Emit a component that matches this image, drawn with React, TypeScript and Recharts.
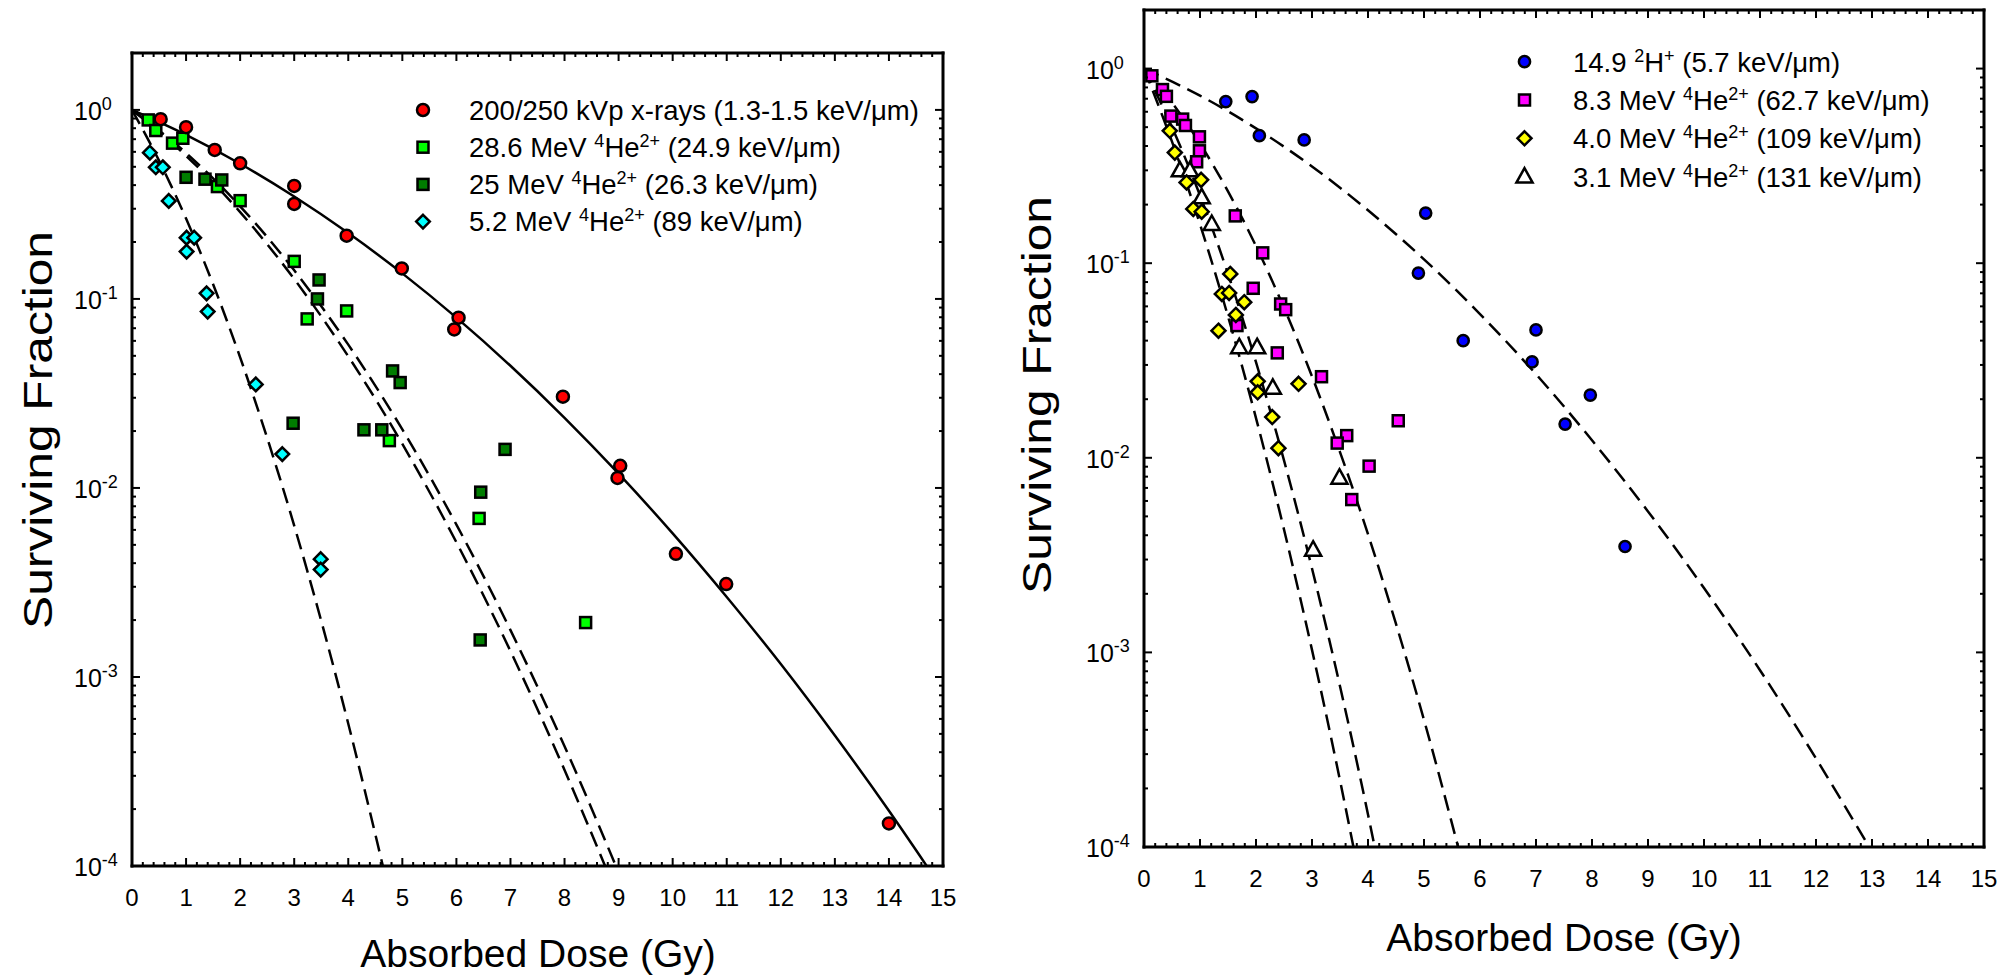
import React from "react";
import { ComposedChart, Scatter, Line, XAxis, YAxis, Legend } from "recharts";

const FONT = "'Liberation Sans', Arial, Helvetica, sans-serif";

// ---- axis ticks ----
const doseLabels = [0, 1, 2, 3, 4, 5, 6, 7, 8, 9, 10, 11, 12, 13, 14, 15];
const doseTicks = doseLabels.flatMap((d) =>
  d === 15 ? [d] : [0, 0.2, 0.4, 0.6, 0.8].map((f) => +(d + f).toFixed(1))
);
const decadeTicks = [0.0001, 0.001, 0.01, 0.1, 1];
const fractionTicks = decadeTicks.flatMap((v) =>
  v === 1 ? [v] : [1, 2, 3, 4, 5, 6, 7, 8, 9].map((m) => +(m * v).toPrecision(3))
);

type Pt = [number, number];

// ---- left panel: measured points [dose (Gy), surviving fraction] ----
const xray: Pt[] = [
  [0.53, 0.893], [1.0, 0.81], [1.53, 0.614], [2.0, 0.522], [3.0, 0.396], [3.0, 0.318],
  [3.97, 0.216], [4.99, 0.145], [6.04, 0.0796], [5.96, 0.069], [7.97, 0.0304],
  [9.03, 0.0131], [8.98, 0.0113], [10.06, 0.00448], [10.99, 0.0031], [14.0, 0.000168],
];
const he286: Pt[] = [
  [0.3, 0.885], [0.44, 0.778], [0.75, 0.667], [0.94, 0.708], [1.58, 0.393], [2.0, 0.331],
  [3.0, 0.158], [3.97, 0.0864], [3.24, 0.0784], [4.76, 0.0178], [6.42, 0.0069], [8.39, 0.00194],
];
const he25: Pt[] = [
  [1.0, 0.44], [1.35, 0.43], [1.66, 0.426], [3.46, 0.126], [3.43, 0.1], [4.82, 0.0416],
  [4.96, 0.0361], [2.98, 0.022], [4.29, 0.0203], [4.62, 0.0203], [6.9, 0.016],
  [6.45, 0.0095], [6.44, 0.00157],
];
const he52: Pt[] = [
  [0.33, 0.594], [0.44, 0.497], [0.57, 0.497], [0.68, 0.33], [1.01, 0.211], [1.15, 0.211],
  [1.01, 0.178], [1.38, 0.107], [1.4, 0.0857], [2.29, 0.0353], [2.78, 0.0151],
  [3.49, 0.0042], [3.49, 0.0037],
];

// ---- left panel: fitted curves ----
const xrayFit: Pt[] = [
  [0, 1], [1, 0.738], [2, 0.519], [3, 0.348], [4, 0.223], [5, 0.1365], [6, 0.0796],
  [7, 0.0443], [8, 0.0235], [9, 0.0119], [10, 0.00575], [11, 0.00265], [12, 0.00117],
  [13, 0.00049], [14, 0.000196], [14.7, 0.0001],
];
const he286Fit: Pt[] = [
  [0, 1], [1, 0.572], [2, 0.288], [3, 0.1275], [4, 0.0497], [5, 0.0171], [6, 0.00516],
  [7, 0.00137], [8, 0.000322], [8.75, 0.0001],
];
const he25Fit: Pt[] = [
  [0, 1], [1, 0.592], [2, 0.309], [3, 0.1417], [4, 0.0573], [5, 0.0204], [6, 0.0064],
  [7, 0.00177], [8, 0.00043], [8.95, 0.0001],
];
const he52Fit: Pt[] = [
  [0, 1], [0.5, 0.539], [1, 0.266], [1.5, 0.1195], [2, 0.0491], [2.5, 0.0184],
  [3, 0.00632], [3.5, 0.00198], [4, 0.000566], [4.64, 0.0001],
];

// ---- right panel: measured points ----
const deut: Pt[] = [
  [1.46, 0.677], [1.93, 0.718], [2.06, 0.452], [2.86, 0.43], [5.03, 0.181], [4.9, 0.089],
  [5.7, 0.04], [7.0, 0.0454], [6.93, 0.0311], [7.97, 0.021], [7.52, 0.0149], [8.59, 0.0035],
];
const he83: Pt[] = [
  [0.14, 0.918], [0.33, 0.78], [0.4, 0.72], [0.48, 0.57], [0.69, 0.55], [0.74, 0.51],
  [0.99, 0.446], [0.99, 0.378], [0.94, 0.332], [1.63, 0.175], [2.12, 0.113], [1.95, 0.0743],
  [2.44, 0.0617], [2.53, 0.0577], [1.66, 0.0478], [2.38, 0.0346], [3.17, 0.0261],
  [4.54, 0.0155], [3.62, 0.013], [3.45, 0.0119], [4.02, 0.00906], [3.71, 0.0061],
];
const he40: Pt[] = [
  [0.46, 0.479], [0.55, 0.37], [0.76, 0.26], [1.02, 0.268], [0.88, 0.19], [1.03, 0.184],
  [1.54, 0.088], [1.39, 0.0695], [1.52, 0.0703], [1.79, 0.063], [1.64, 0.0542], [1.33, 0.045],
  [2.03, 0.0247], [2.76, 0.024], [2.03, 0.0217], [2.29, 0.0162], [2.4, 0.0112],
];
const he31: Pt[] = [
  [0.64, 0.3], [0.82, 0.3], [1.03, 0.218], [1.21, 0.159], [1.7, 0.037], [2.02, 0.037],
  [2.3, 0.0229], [3.49, 0.0079], [3.02, 0.00337],
];

// ---- right panel: fitted curves ----
const deutFit: Pt[] = [
  [0, 1], [1, 0.726], [2, 0.493], [3, 0.314], [4, 0.187], [5, 0.1047], [6, 0.0548],
  [7, 0.0269], [8, 0.0123], [9, 0.0053], [10, 0.00214], [11, 0.00081], [12, 0.000285],
  [12.95, 0.0001],
];
const he83Fit: Pt[] = [
  [0, 1], [0.5, 0.669], [1, 0.412], [1.5, 0.234], [2, 0.1225], [2.5, 0.059], [3, 0.0262],
  [3.5, 0.0107], [4, 0.00405], [4.5, 0.0014], [5, 0.00045], [5.61, 0.0001],
];
const he40Fit: Pt[] = [
  [0, 1], [0.5, 0.5], [1, 0.223], [1.5, 0.0882], [2, 0.031], [2.5, 0.0097], [3, 0.0027],
  [3.5, 0.00067], [4, 0.000147], [4.12, 0.0001],
];
const he31Fit: Pt[] = [
  [0, 1], [0.5, 0.421], [1, 0.1584], [1.5, 0.0533], [2, 0.016], [2.5, 0.00428],
  [3, 0.00103], [3.5, 0.00022], [3.74, 0.0001],
];

// ---- markers ----
type ShapeFn = (cx: number, cy: number) => React.ReactElement;
const circle = (fill: string, r: number): ShapeFn => (cx, cy) => (
  <circle cx={cx} cy={cy} r={r} fill={fill} stroke="#000" strokeWidth={2.5} />
);
const square = (fill: string, s: number): ShapeFn => (cx, cy) => (
  <rect x={cx - s / 2} y={cy - s / 2} width={s} height={s} fill={fill} stroke="#000" strokeWidth={2.5} />
);
const diamond = (fill: string, h: number): ShapeFn => (cx, cy) => (
  <polygon
    points={`${cx},${cy - h} ${cx + h},${cy} ${cx},${cy + h} ${cx - h},${cy}`}
    fill={fill}
    stroke="#000"
    strokeWidth={2.5}
  />
);
const triangle = (fill: string, h: number): ShapeFn => (cx, cy) => (
  <polygon
    points={`${cx},${cy - h} ${cx + h * 0.95},${cy + h * 0.7} ${cx - h * 0.95},${cy + h * 0.7}`}
    fill={fill}
    stroke="#000"
    strokeWidth={2.5}
    strokeLinejoin="miter"
  />
);

// label pieces: [text, superscript?]
type Part = [string, boolean];

interface SeriesDef {
  label: Part[];
  points: Pt[];
  shape: ShapeFn;
}
interface CurveDef {
  points: Pt[];
  dashed: boolean;
}

const leftSeries: SeriesDef[] = [
  { label: [["200/250 kVp x-rays (1.3-1.5 keV/μm)", false]], points: xray, shape: circle("#ff0000", 6) },
  {
    label: [["28.6 MeV ", false], ["4", true], ["He", false], ["2+", true], [" (24.9 keV/μm)", false]],
    points: he286,
    shape: square("#00ff00", 11),
  },
  {
    label: [["25 MeV ", false], ["4", true], ["He", false], ["2+", true], [" (26.3 keV/μm)", false]],
    points: he25,
    shape: square("#007d00", 11),
  },
  {
    label: [["5.2 MeV ", false], ["4", true], ["He", false], ["2+", true], [" (89 keV/μm)", false]],
    points: he52,
    shape: diamond("#00ffff", 6.8),
  },
];
const leftDrawOrder = [3, 1, 2, 0];

const rightSeries: SeriesDef[] = [
  {
    label: [["14.9 ", false], ["2", true], ["H", false], ["+", true], [" (5.7 keV/μm)", false]],
    points: deut,
    shape: circle("#0000ff", 5.6),
  },
  {
    label: [["8.3 MeV ", false], ["4", true], ["He", false], ["2+", true], [" (62.7 keV/μm)", false]],
    points: he83,
    shape: square("#ff00ff", 11),
  },
  {
    label: [["4.0 MeV ", false], ["4", true], ["He", false], ["2+", true], [" (109 keV/μm)", false]],
    points: he40,
    shape: diamond("#ffff00", 7),
  },
  {
    label: [["3.1 MeV ", false], ["4", true], ["He", false], ["2+", true], [" (131 keV/μm)", false]],
    points: he31,
    shape: triangle("#ffffff", 8.5),
  },
];
const rightDrawOrder = [0, 1, 3, 2];

const leftCurves: CurveDef[] = [
  { points: xrayFit, dashed: false },
  { points: he286Fit, dashed: true },
  { points: he25Fit, dashed: true },
  { points: he52Fit, dashed: true },
];
const rightCurves: CurveDef[] = [
  { points: deutFit, dashed: true },
  { points: he83Fit, dashed: true },
  { points: he40Fit, dashed: true },
  { points: he31Fit, dashed: true },
];

const toRows = (pts: Pt[]) => pts.map(([x, y]) => ({ x, y }));

const isDecade = (v: number) => Math.abs(Math.log10(v) - Math.round(Math.log10(v))) < 1e-6;
const isWhole = (v: number) => Math.abs(v - Math.round(v)) < 1e-6;

// ---- tick renderers (ticks point into the plot) ----
function leftYTick(props: any) {
  const { x, y, payload } = props;
  const v = payload.value;
  const major = isDecade(v);
  const e = Math.round(Math.log10(v));
  return (
    <g>
      <line x1={x} x2={x + (major ? 8 : 4)} y1={y} y2={y} stroke="#000" strokeWidth={2} />
      {major && (
        <text x={x - 58} y={y + 10} fontFamily={FONT} fontSize={25} fill="#000">
          10
          <tspan dy={-10} fontSize={18}>
            {e === 0 ? "0" : String(e)}
          </tspan>
        </text>
      )}
    </g>
  );
}
function rightYTick(props: any) {
  const { x, y, payload } = props;
  const major = isDecade(payload.value);
  return <line x1={x} x2={x - (major ? 8 : 4)} y1={y} y2={y} stroke="#000" strokeWidth={2} />;
}
function bottomXTick(props: any) {
  const { x, y, payload } = props;
  const v = payload.value;
  const major = isWhole(v);
  return (
    <g>
      <line x1={x} x2={x} y1={y} y2={y - (major ? 8 : 4)} stroke="#000" strokeWidth={2} />
      {major && (
        <text x={x} y={y + 40} textAnchor="middle" fontFamily={FONT} fontSize={24} fill="#000">
          {Math.round(v)}
        </text>
      )}
    </g>
  );
}
function topXTick(props: any) {
  const { x, y, payload } = props;
  const major = isWhole(payload.value);
  return <line x1={x} x2={x} y1={y} y2={y + (major ? 8 : 4)} stroke="#000" strokeWidth={2} />;
}

function RichText({ x, y, parts, size }: { x: number; y: number; parts: Part[]; size: number }) {
  let raised = false;
  return (
    <text x={x} y={y} fontFamily={FONT} fontSize={size} fill="#000" style={{ whiteSpace: "pre" }}>
      {parts.map(([t, sup], i) => {
        const dy = sup && !raised ? -10 : !sup && raised ? 10 : 0;
        raised = sup;
        return (
          <tspan key={i} dy={dy} fontSize={sup ? 18 : size}>
            {t}
          </tspan>
        );
      })}
    </text>
  );
}

interface PanelProps {
  pageLeft: number;
  width: number;
  yAxisWidth: number;
  rightWidth: number;
  topHeight: number;
  bottomHeight: number;
  series: SeriesDef[];
  drawOrder: number[];
  curves: CurveDef[];
  yTitle: { x: number; y: number };
  xTitle: { x: number; y: number };
  legend: { left: number; top: number; markerX: number; row0: number; gap: number; textX: number; base: number };
}

const axisLineStyle = { stroke: "#000", strokeWidth: 3, strokeLinecap: "square" as const };

function Panel(p: PanelProps) {
  const lg = p.legend;
  return (
    <div style={{ position: "absolute", left: p.pageLeft, top: 0 }}>
      <ComposedChart width={p.width} height={976} margin={{ top: 0, right: 0, bottom: 0, left: 0 }}>
        <XAxis
          xAxisId="b"
          dataKey="x"
          type="number"
          domain={[0, 15]}
          allowDataOverflow
          ticks={doseTicks}
          interval={0}
          tickSize={0}
          tickMargin={0}
          tickLine={false}
          tick={bottomXTick}
          axisLine={axisLineStyle}
          height={p.bottomHeight}
          label={() => (
            <text x={p.xTitle.x} y={p.xTitle.y} textAnchor="middle" fontFamily={FONT} fontSize={39} fill="#000">
              Absorbed Dose (Gy)
            </text>
          )}
        />
        <XAxis
          xAxisId="t"
          orientation="top"
          dataKey="x"
          type="number"
          domain={[0, 15]}
          allowDataOverflow
          ticks={doseTicks}
          interval={0}
          tickSize={0}
          tickMargin={0}
          tickLine={false}
          tick={topXTick}
          axisLine={axisLineStyle}
          height={p.topHeight}
        />
        <YAxis
          yAxisId="l"
          dataKey="y"
          type="number"
          scale="log"
          domain={[0.0001, 2]}
          allowDataOverflow
          ticks={fractionTicks}
          interval={0}
          tickSize={0}
          tickMargin={0}
          tickLine={false}
          tick={leftYTick}
          axisLine={axisLineStyle}
          width={p.yAxisWidth}
          label={() => (
            <text
              x={p.yTitle.x}
              y={p.yTitle.y}
              textAnchor="middle"
              dominantBaseline="central"
              transform={`rotate(-90 ${p.yTitle.x} ${p.yTitle.y})`}
              fontFamily={FONT}
              fontSize={41}
              textLength={398}
              lengthAdjust="spacingAndGlyphs"
              fill="#000"
            >
              Surviving Fraction
            </text>
          )}
        />
        <YAxis
          yAxisId="r"
          orientation="right"
          dataKey="y"
          type="number"
          scale="log"
          domain={[0.0001, 2]}
          allowDataOverflow
          ticks={fractionTicks}
          interval={0}
          tickSize={0}
          tickMargin={0}
          tickLine={false}
          tick={rightYTick}
          axisLine={axisLineStyle}
          width={p.rightWidth}
        />
        {p.curves.map((c, i) => (
          <Line
            key={"c" + i}
            xAxisId="b"
            yAxisId="l"
            data={toRows(c.points)}
            dataKey="y"
            type="monotone"
            dot={false}
            activeDot={false}
            stroke="#000"
            strokeWidth={2.5}
            strokeDasharray={c.dashed ? "16 8" : undefined}
            isAnimationActive={false}
          />
        ))}
        {p.drawOrder.map((i) => {
          const s = p.series[i];
          return (
            <Scatter
              key={"s" + i}
              xAxisId="b"
              yAxisId="l"
              data={toRows(s.points)}
              dataKey="y"
              shape={(sp: any) => s.shape(sp.cx, sp.cy)}
              isAnimationActive={false}
            />
          );
        })}
        <Legend
          layout="vertical"
          align="center"
          verticalAlign="middle"
          wrapperStyle={{ position: "absolute", left: lg.left, top: lg.top, width: 560, height: 170 }}
          content={() => (
            <svg width={560} height={170} style={{ overflow: "visible", display: "block" }}>
              {p.series.map((s, i) => {
                const cy = lg.row0 + i * lg.gap;
                return (
                  <g key={i}>
                    {s.shape(lg.markerX, cy)}
                    <RichText x={lg.textX} y={cy + lg.base} parts={s.label} size={27.5} />
                  </g>
                );
              })}
            </svg>
          )}
        />
      </ComposedChart>
    </div>
  );
}

export default function App() {
  return (
    <div style={{ position: "absolute", left: 0, top: 0, width: 2015, height: 976, background: "#fff" }}>
      <Panel
        pageLeft={0}
        width={960}
        yAxisWidth={132}
        rightWidth={17}
        topHeight={53}
        bottomHeight={110}
        series={leftSeries}
        drawOrder={leftDrawOrder}
        curves={leftCurves}
        yTitle={{ x: 38, y: 430 }}
        xTitle={{ x: 538, y: 967 }}
        legend={{ left: 400, top: 85, markerX: 23, row0: 25, gap: 37.2, textX: 69, base: 9.5 }}
      />
      <Panel
        pageLeft={960}
        width={1055}
        yAxisWidth={184}
        rightWidth={31}
        topHeight={10}
        bottomHeight={129}
        series={rightSeries}
        drawOrder={rightDrawOrder}
        curves={rightCurves}
        yTitle={{ x: 77, y: 395 }}
        xTitle={{ x: 604, y: 951 }}
        legend={{ left: 540, top: 40, markerX: 24.5, row0: 21.7, gap: 38.3, textX: 73, base: 10 }}
      />
    </div>
  );
}
